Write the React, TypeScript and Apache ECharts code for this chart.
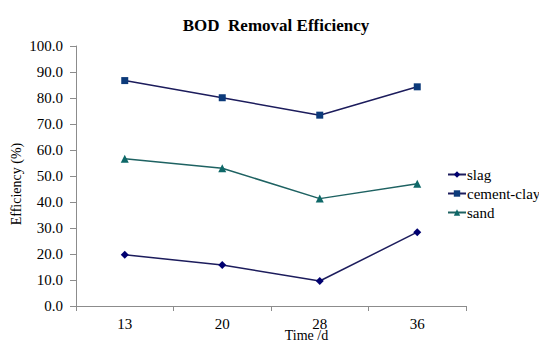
import React, { useEffect, useRef } from "react";
import * as echarts from "echarts";

const categories = ["13", "20", "28", "36"];
const slag = [19.7, 15.8, 9.6, 28.4];
const cementClay = [86.7, 80.1, 73.4, 84.3];
const sand = [56.6, 53.0, 41.3, 47.0];
const seriesNames = ["slag", "cement-clay", "sand"];
const yTicks = { min: 0, max: 100, interval: 10 };

const FONT = "Liberation Serif";
const serif15 = { fontFamily: FONT, fontSize: 15, color: "#000" };

export default function App() {
  const ref = useRef<HTMLDivElement>(null);

  useEffect(() => {
    if (!ref.current) return;
    const chart = echarts.init(ref.current, null, { renderer: "svg" });
    chart.setOption({
      animation: false,
      backgroundColor: "#ffffff",
      textStyle: { fontFamily: FONT, color: "#000" },
      title: {
        text: "BOD  Removal Efficiency",
        left: 271,
        top: 12,
        textAlign: "center",
        textStyle: { fontFamily: FONT, fontSize: 17, fontWeight: "bold", color: "#000" },
      },
      grid: { left: 76, right: 73, top: 46, bottom: 36, outerBoundsMode: "none", containLabel: false },
      legend: {
        orient: "vertical",
        left: 442,
        top: 162,
        itemWidth: 18,
        itemHeight: 8,
        itemGap: 4,
        formatter: (name: string) => `{t|${name}}`,
        textStyle: { ...serif15, padding: [0, 0, 0, -4], rich: { t: serif15 } },
        data: seriesNames,
      },
      xAxis: {
        type: "category",
        data: categories,
        boundaryGap: true,
        name: "Time /d",
        nameLocation: "middle",
        nameGap: 22,
        nameMoveOverlap: false,
        nameTextStyle: { fontFamily: FONT, fontSize: 14, color: "#000", padding: [0, 0, 0, 71] },
        axisLine: { lineStyle: { color: "#8c8c8c", width: 1 } },
        axisTick: { show: true, length: 5, lineStyle: { color: "#8c8c8c" } },
        axisLabel: {
          ...serif15,
          margin: 10,
          formatter: (v: string) => `{t|${v}}`,
          rich: { t: serif15 },
        },
        splitLine: { show: false },
      },
      yAxis: {
        type: "value",
        min: yTicks.min,
        max: yTicks.max,
        interval: yTicks.interval,
        name: "Efficiency (%)",
        nameLocation: "middle",
        nameGap: 53,
        nameMoveOverlap: false,
        nameRotate: 90,
        nameTextStyle: { fontFamily: FONT, fontSize: 14, color: "#000", padding: [0, 16, 0, 0] },
        axisLine: { show: true, lineStyle: { color: "#8c8c8c", width: 1 } },
        axisTick: { show: true, length: 6, lineStyle: { color: "#8c8c8c" } },
        axisLabel: {
          ...serif15,
          margin: 13,
          formatter: (v: number) => `{t|${v.toFixed(1)}}`,
          rich: { t: serif15 },
        },
        splitLine: { show: false },
      },
      series: [
        {
          name: seriesNames[0],
          type: "line",
          data: slag,
          symbol: "diamond",
          symbolSize: 8,
          lineStyle: { color: "#1c1c5c", width: 1.5 },
          itemStyle: { color: "#000070" },
        },
        {
          name: seriesNames[1],
          type: "line",
          data: cementClay,
          symbol: "rect",
          symbolSize: 7,
          lineStyle: { color: "#1c1c5c", width: 1.5 },
          itemStyle: { color: "#0c3a7a" },
        },
        {
          name: seriesNames[2],
          type: "line",
          data: sand,
          symbol: "triangle",
          symbolSize: 8,
          lineStyle: { color: "#1e6262", width: 1.5 },
          itemStyle: { color: "#0e6868" },
        },
      ],
    });
    return () => chart.dispose();
  }, []);

  return <div ref={ref} style={{ width: 539, height: 342, position: "absolute", left: 0, top: 0 }} />;
}
